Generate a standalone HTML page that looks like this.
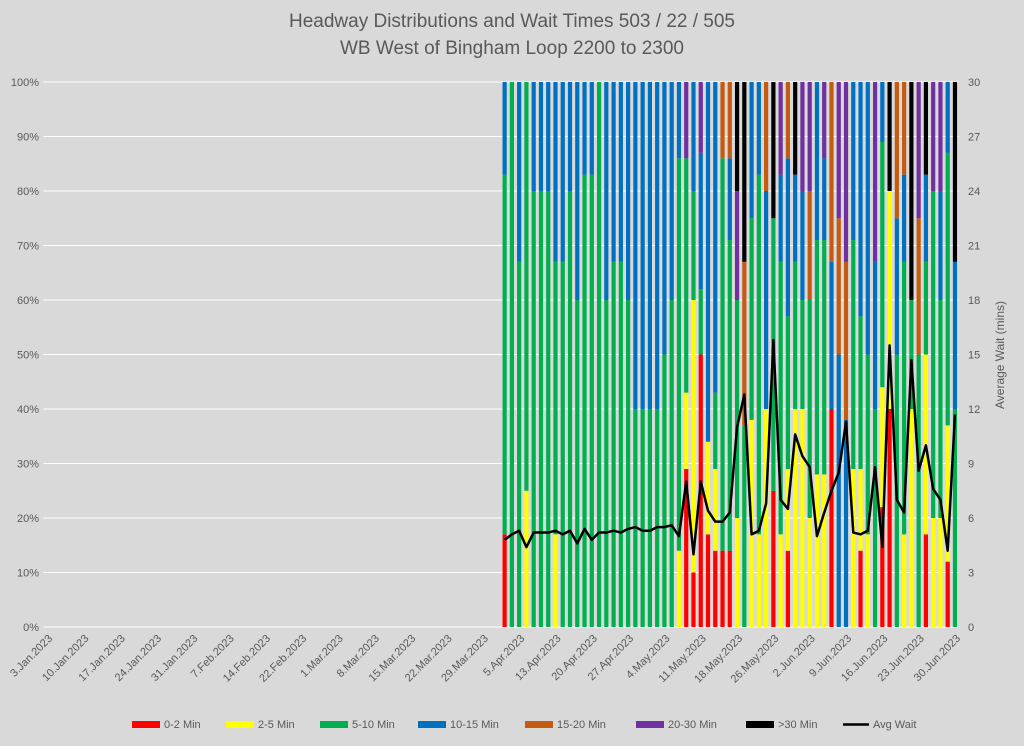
<!DOCTYPE html>
<html><head><meta charset="utf-8"><style>
html,body{margin:0;padding:0;background:#d9d9d9;}
svg{display:block;font-family:"Liberation Sans",sans-serif;}
</style></head><body>
<svg id="chart" width="1024" height="746" viewBox="0 0 1024 746">
<rect width="1024" height="746" fill="#d9d9d9"/>
<text x="512" y="27" text-anchor="middle" font-size="19" fill="#595959">Headway Distributions and Wait Times 503 / 22 / 505</text>
<text x="512" y="54" text-anchor="middle" font-size="19" fill="#595959">WB West of Bingham Loop 2200 to 2300</text>
<text transform="translate(1004,355) rotate(-90)" text-anchor="middle" font-size="12" fill="#595959">Average Wait (mins)</text>
<g id="grid"></g><g id="bars"></g><g id="line"></g><g id="axes"></g><g id="legend"></g>
</svg>
<script>
const tickLabels = ["3.Jan.2023","10.Jan.2023","17.Jan.2023","24.Jan.2023","31.Jan.2023","7.Feb.2023","14.Feb.2023","22.Feb.2023","1.Mar.2023","8.Mar.2023","15.Mar.2023","22.Mar.2023","29.Mar.2023","5.Apr.2023","13.Apr.2023","20.Apr.2023","27.Apr.2023","4.May.2023","11.May.2023","18.May.2023","26.May.2023","2.Jun.2023","9.Jun.2023","16.Jun.2023","23.Jun.2023","30.Jun.2023"];
const categoryCount = 126;
const firstDataIndex = 63;
const pctTicks = ["0%","10%","20%","30%","40%","50%","60%","70%","80%","90%","100%"];
const waitTicks = [0,3,6,9,12,15,18,21,24,27,30];
const red    = [17,0,0,0,0,0,0,0,0,0,0,0,0,0,0,0,0,0,0,0,0,0,0,0,0,29,10,50,17,14,14,14,0,0,0,0,0,25,0,14,0,0,0,0,0,40,0,0,0,14,0,0,22,40,0,0,0,0,17,0,0,12,0];
const yellow = [0,0,0,25,0,0,0,17,0,0,0,0,0,0,0,0,0,0,0,0,0,0,0,0,14,14,50,0,17,15,0,0,20,0,38,17,40,0,17,15,40,40,20,28,28,0,0,0,29,15,17,0,22,40,0,17,40,0,33,20,20,25,0];
const green  = [66,100,67,75,80,80,80,50,67,80,60,83,83,100,60,67,67,60,40,40,40,40,50,60,72,43,20,12,0,14,72,57,40,37,37,66,0,50,50,28,27,20,40,43,43,0,0,0,42,28,33,40,45,0,50,50,20,50,17,60,40,50,40];
const blue   = [17,0,33,0,20,20,20,33,33,20,40,17,17,0,40,33,33,40,60,60,60,60,50,40,14,0,20,25,66,57,0,15,0,0,25,17,40,0,16,29,16,20,0,29,15,27,50,38,29,43,50,27,11,0,25,16,0,0,16,0,20,13,27];
const orange = [0,0,0,0,0,0,0,0,0,0,0,0,0,0,0,0,0,0,0,0,0,0,0,0,0,0,0,0,0,0,14,14,0,30,0,0,20,0,0,14,0,0,20,0,0,33,25,29,0,0,0,0,0,0,25,17,0,25,0,0,0,0,0];
const purple = [0,0,0,0,0,0,0,0,0,0,0,0,0,0,0,0,0,0,0,0,0,0,0,0,0,14,0,13,0,0,0,0,20,0,0,0,0,0,17,0,0,20,20,0,14,0,25,33,0,0,0,33,0,0,0,0,0,25,0,20,20,0,0];
const black  = [0,0,0,0,0,0,0,0,0,0,0,0,0,0,0,0,0,0,0,0,0,0,0,0,0,0,0,0,0,0,0,0,20,33,0,0,0,25,0,0,17,0,0,0,0,0,0,0,0,0,0,0,0,20,0,0,40,0,17,0,0,0,33];
const avgWait = [4.8,5.1,5.3,4.4,5.2,5.2,5.2,5.3,5.1,5.3,4.6,5.4,4.8,5.2,5.2,5.3,5.2,5.4,5.5,5.3,5.3,5.5,5.5,5.6,5.0,8.0,4.0,8.0,6.4,5.8,5.8,6.3,11.0,12.8,5.1,5.3,6.8,15.8,7.0,6.5,10.6,9.4,8.8,5.0,6.3,7.5,8.5,11.3,5.2,5.1,5.3,8.8,4.4,15.5,7.0,6.3,14.7,8.6,10.0,7.6,7.0,4.2,11.7];

const series = [
  {name:"0-2 Min", values:red, color:"#ff0000", key:"red"},
  {name:"2-5 Min", values:yellow, color:"#ffff00", key:"yellow"},
  {name:"5-10 Min", values:green, color:"#00b050", key:"green"},
  {name:"10-15 Min", values:blue, color:"#0070c0", key:"blue"},
  {name:"15-20 Min", values:orange, color:"#c55a11", key:"orange"},
  {name:"20-30 Min", values:purple, color:"#7030a0", key:"purple"},
  {name:">30 Min", values:black, color:"#000000", key:"black"}
];
const NS = "http://www.w3.org/2000/svg";
const L = 43.4, R = 958.6, T = 82, B = 627;
const step = (R - L) / categoryCount;
const xCenter = i => L + (i + 0.5) * step;
const yPct = v => B - (v / 100) * (B - T);
const yWait = v => B - (v / 30) * (B - T);
function mk(tag, attrs, parent){ const e=document.createElementNS(NS,tag); for(const k in attrs) e.setAttribute(k,attrs[k]); parent.appendChild(e); return e; }

const grid = document.getElementById('grid');
const axes = document.getElementById('axes');
pctTicks.forEach((lab, i) => {
  const v = i * 10;
  const ln = mk('line', {x1:L, x2:R, y1:yPct(v), y2:yPct(v), stroke:'#ffffff', 'stroke-width':1}, grid);
  
  
  const t = mk('text', {x:39, y:yPct(v)+4, 'text-anchor':'end', 'font-size':11, fill:'#595959'}, axes);
  t.textContent = lab;
  
  
});
waitTicks.forEach(v => {
  const t = mk('text', {x:968, y:yWait(v)+4, 'text-anchor':'start', 'font-size':11, fill:'#595959'}, axes);
  t.textContent = v;
  
  
});
tickLabels.forEach((lab, i) => {
  const x = xCenter(i * 5);
  const t = mk('text', {transform:`translate(${x+6},639) rotate(-45)`, 'text-anchor':'end', 'font-size':11, fill:'#595959'}, axes);
  t.textContent = lab;
  
  
});

const bars = document.getElementById('bars');
const bw = 4.2;
for (let k = 0; k < avgWait.length; k++) {
  const x = xCenter(firstDataIndex + k);
  let total = 0;
  series.forEach(s => total += s.values[k]);
  let acc = 0;
  series.forEach(s => {
    const v = s.values[k] / (total || 1) * 100;
    if (v > 0) {
      const r = mk('rect', {x:x-bw/2, y:yPct(acc+v), width:bw, height:yPct(acc)-yPct(acc+v), fill:s.color}, bars);
      
      
    }
    acc += v;
  });
}
const lineG = document.getElementById('line');
const pts = avgWait.map((v, k) => `${xCenter(firstDataIndex + k).toFixed(2)},${yWait(v).toFixed(2)}`).join(' ');
const pl = mk('polyline', {points:pts, fill:'none', stroke:'#000', 'stroke-width':2.5, 'stroke-linejoin':'round'}, lineG);



const legend = document.getElementById('legend');
const legendX = [132, 226, 320, 418, 525, 636, 746];
series.forEach((s, i) => {
  const g = mk('g', {}, legend);
  
  
  mk('rect', {x:legendX[i], y:721, width:28, height:7, fill:s.color}, g);
  const t = mk('text', {x:legendX[i]+32, y:728, 'font-size':11, fill:'#595959'}, g);
  t.textContent = s.name;
});
const gl = mk('g', {}, legend);


mk('line', {x1:843, x2:869, y1:724.5, y2:724.5, stroke:'#000', 'stroke-width':2.5}, gl);
const tl = mk('text', {x:873, y:728, 'font-size':11, fill:'#595959'}, gl);
tl.textContent = 'Avg Wait';
</script>
</body></html>
